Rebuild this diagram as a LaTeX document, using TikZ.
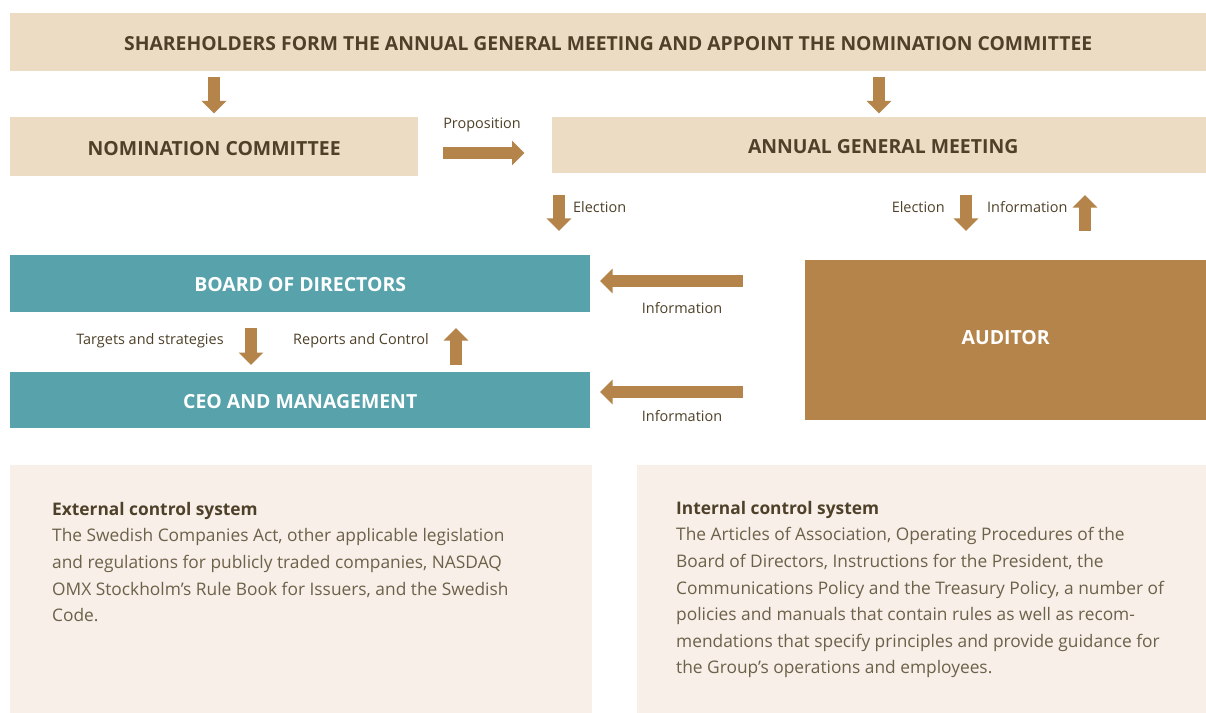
\documentclass[tikz,border=0pt]{standalone}
\usepackage{fontspec}
\setmainfont{Open Sans}
\usetikzlibrary{arrows.meta}
\definecolor{lightbox}{HTML}{EDDCC4}
\definecolor{palebox}{HTML}{F7EFE8}
\definecolor{tealbox}{HTML}{58A2AC}
\definecolor{brownbox}{HTML}{B5844A}
\definecolor{darktext}{HTML}{4F4129}
\definecolor{bodytext}{HTML}{6E6149}
\begin{document}
\begin{tikzpicture}[x=1bp,y=-1bp,
  boxbase/.style={inner sep=0pt, anchor=north west, font=\bfseries\fontsize{19.5}{22}\selectfont},
  lightnode/.style={boxbase, fill=lightbox, text=darktext, text height=17.5bp, text depth=0pt},
  tealnode/.style={boxbase, fill=tealbox, text=white, text height=16.5bp, text depth=0pt},
  brownnode/.style={boxbase, fill=brownbox, text=white},
  palenode/.style={inner sep=0pt, anchor=north west, fill=palebox},
  bodynode/.style={inner sep=0pt, anchor=north west, align=left, text=bodytext, font=\fontsize{17.4}{26.7}\selectfont},
  lbl/.style={inner sep=0pt, text=darktext, font=\fontsize{14.5}{17}\selectfont},
  blockarrow/.style={draw=brownbox, line width=11.5bp, -{Triangle[width=24bp,length=12.5bp]}}
]
\useasboundingbox (0,0) rectangle (1206,713);
\fill[white] (0,0) rectangle (1206,713);

% boxes
\node[lightnode, minimum width=1196bp, minimum height=58bp, font=\bfseries\fontsize{19.4}{22}\selectfont] (share) at (10,13) {SHAREHOLDERS FORM THE ANNUAL GENERAL MEETING AND APPOINT THE NOMINATION COMMITTEE};
\node[lightnode, minimum width=408bp, minimum height=59bp] (nom) at (10,117) {NOMINATION COMMITTEE};
\node[lightnode, minimum width=654bp, minimum height=56bp] (agm) at (552,117) {\hspace*{8bp}ANNUAL GENERAL MEETING};
\node[tealnode, minimum width=580bp, minimum height=57bp] (board) at (10,255) {BOARD OF DIRECTORS};
\node[tealnode, minimum width=580bp, minimum height=56bp] (ceo) at (10,372) {CEO AND MANAGEMENT};
\node[brownnode, minimum width=401bp, minimum height=160bp] (auditor) at (805,260) {AUDITOR\vphantom{g}};
\node[palenode, minimum width=582bp, minimum height=248bp] (ext) at (10,465) {};
\node[palenode, minimum width=569bp, minimum height=248bp] (int) at (637,465) {};

% bottom texts
\node[bodynode] (exttext) at (52,502) {\textcolor{darktext}{\bfseries External control system}\\
The Swedish Companies Act, other applicable legislation\\
and regulations for publicly traded companies, NASDAQ\\
OMX Stockholm’s Rule Book for Issuers, and the Swedish\\
Code.};
\node[bodynode] (inttext) at (676,501) {\textcolor{darktext}{\bfseries Internal control system}\\
The Articles of Association, Operating Procedures of the\\
Board of Directors, Instructions for the President, the\\
Communications Policy and the Treasury Policy, a number of\\
policies and manuals that contain rules as well as recom-\\
mendations that specify principles and provide guidance for\\
the Group’s operations and employees.};

% arrow endpoints
\coordinate (d1s) at (214,77);   \coordinate (d1e) at (214,113.5);
\coordinate (d2s) at (879,77);   \coordinate (d2e) at (879,113.5);
\coordinate (ps) at (443,153);   \coordinate (pe) at (524.5,153);
\coordinate (e1s) at (559,195);  \coordinate (e1e) at (559,231);
\coordinate (e2s) at (966,195);  \coordinate (e2e) at (966,231);
\coordinate (i1s) at (1085,231); \coordinate (i1e) at (1085,195);
\coordinate (l1s) at (742.5,281); \coordinate (l1e) at (600,281);
\coordinate (l2s) at (742.5,392); \coordinate (l2e) at (600,392);
\coordinate (ts) at (251,328);   \coordinate (te) at (251,365);
\coordinate (rs) at (456,365);   \coordinate (re) at (456,328);

\draw[blockarrow] (d1s) -- (d1e);
\draw[blockarrow] (d2s) -- (d2e);
\draw[blockarrow] (ps) -- (pe);
\draw[blockarrow] (e1s) -- (e1e);
\draw[blockarrow] (e2s) -- (e2e);
\draw[blockarrow] (i1s) -- (i1e);
\draw[blockarrow] (l1s) -- (l1e);
\draw[blockarrow] (l2s) -- (l2e);
\draw[blockarrow] (ts) -- (te);
\draw[blockarrow] (rs) -- (re);

% labels
\node[lbl] (lprop) at (482,125) {Proposition};
\node[lbl, anchor=west] (lel1) at (573,207) {Election};
\node[lbl, anchor=east] (lel2) at (945,207) {Election};
\node[lbl, anchor=west] (linf1) at (987,207) {Information};
\node[lbl] (linf2) at (682,308) {Information};
\node[lbl] (linf3) at (682,416) {Information};
\node[lbl] (ltar) at (150,341) {Targets and strategies};
\node[lbl] (lrep) at (361,341) {Reports and Control};
\end{tikzpicture}
\end{document}
